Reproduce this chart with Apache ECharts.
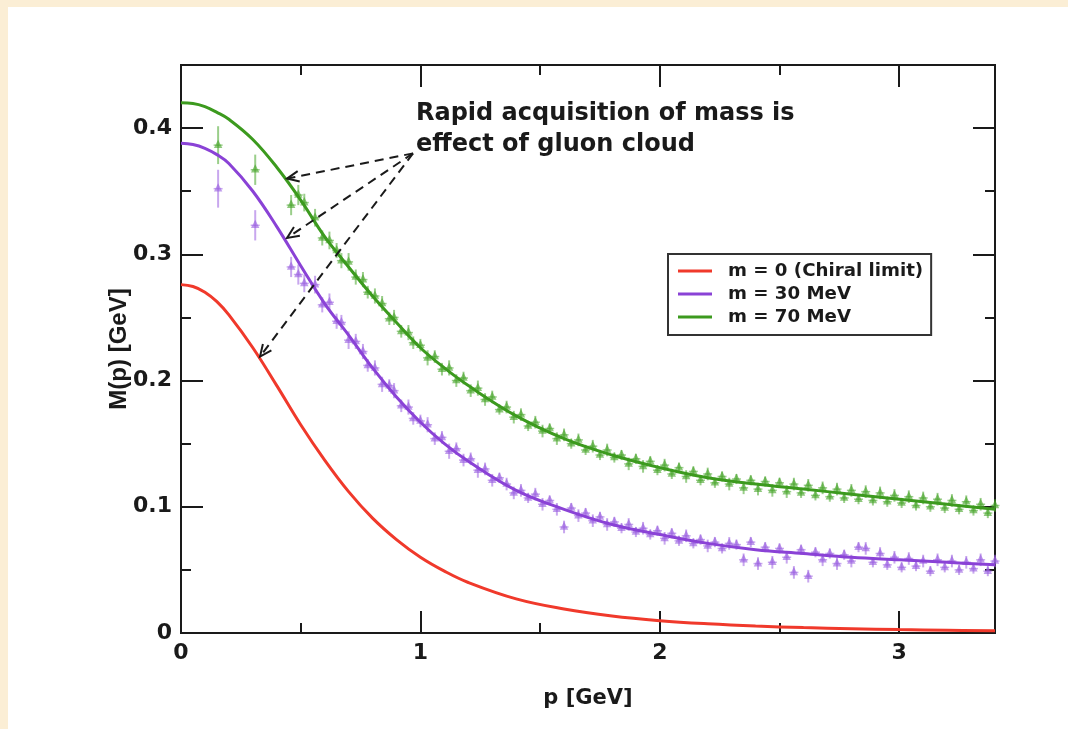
<!DOCTYPE html>
<html>
<head>
<meta charset="utf-8">
<script src="https://cdn.jsdelivr.net/npm/echarts@6/dist/echarts.min.js"></script>
<style>
  html, body { margin: 0; padding: 0; background: #fbeed5; }
  #main { width: 1068px; height: 729px; }
</style>
</head>
<body>
<div id="main"></div>
<script>
// fitted curves
const curveMomenta = [0, 0.05, 0.1, 0.15, 0.2, 0.3, 0.4, 0.5, 0.6, 0.7, 0.8, 0.9, 1.0, 1.1, 1.2, 1.4, 1.6, 1.8, 2.0, 2.2, 2.4, 2.6, 2.8, 3.0, 3.2, 3.4];
const chiralCurve = [0.276, 0.2745, 0.270, 0.2625, 0.252, 0.226, 0.196, 0.165, 0.137, 0.112, 0.091, 0.074, 0.060, 0.049, 0.040, 0.027, 0.019, 0.0135, 0.0098, 0.0073, 0.0055, 0.0043, 0.0034, 0.0027, 0.0022, 0.0018];
const mass30Curve = [0.388, 0.387, 0.384, 0.379, 0.372, 0.350, 0.322, 0.291, 0.261, 0.236, 0.210, 0.187, 0.167, 0.150, 0.136, 0.113, 0.098, 0.086, 0.078, 0.071, 0.066, 0.063, 0.060, 0.058, 0.056, 0.054];
const mass70Curve = [0.420, 0.4195, 0.417, 0.4125, 0.407, 0.391, 0.369, 0.343, 0.314, 0.290, 0.267, 0.246, 0.226, 0.210, 0.196, 0.172, 0.154, 0.141, 0.131, 0.123, 0.118, 0.114, 0.110, 0.106, 0.102, 0.098];

// lattice points (same momenta for both masses)
const latticeMomenta = [0.155, 0.31, 0.46, 0.49, 0.515,
  0.56, 0.59, 0.62, 0.65, 0.67, 0.70, 0.73, 0.76, 0.78, 0.81,
  0.84, 0.87, 0.89, 0.92, 0.95, 0.97, 1.00, 1.03, 1.06, 1.09,
  1.12, 1.15, 1.18, 1.21, 1.24, 1.27, 1.30, 1.33, 1.36, 1.39,
  1.42, 1.45, 1.48, 1.51, 1.54, 1.57, 1.60, 1.63, 1.66, 1.69,
  1.72, 1.75, 1.78, 1.81, 1.84, 1.87, 1.90, 1.93, 1.96, 1.99,
  2.02, 2.05, 2.08, 2.11, 2.14, 2.17, 2.20, 2.23, 2.26, 2.29,
  2.32, 2.35, 2.38, 2.41, 2.44, 2.47, 2.50, 2.53, 2.56, 2.59,
  2.62, 2.65, 2.68, 2.71, 2.74, 2.77, 2.80, 2.83, 2.86, 2.89,
  2.92, 2.95, 2.98, 3.01, 3.04, 3.07, 3.10, 3.13, 3.16, 3.19,
  3.22, 3.25, 3.28, 3.31, 3.34, 3.37, 3.40];
const mass30Lattice = [0.352, 0.323, 0.290, 0.284, 0.277,
  0.276, 0.260, 0.262, 0.247, 0.246, 0.232, 0.231, 0.223, 0.212, 0.210,
  0.197, 0.196, 0.192, 0.180, 0.179, 0.170, 0.168, 0.165, 0.154, 0.155,
  0.144, 0.146, 0.137, 0.138, 0.129, 0.130, 0.121, 0.123, 0.118, 0.111,
  0.113, 0.107, 0.110, 0.102, 0.105, 0.098, 0.084, 0.099, 0.093, 0.095,
  0.089, 0.092, 0.086, 0.088, 0.083, 0.086, 0.080, 0.083, 0.078, 0.081,
  0.075, 0.079, 0.073, 0.077, 0.071, 0.074, 0.069, 0.072, 0.067, 0.071,
  0.070, 0.058, 0.072, 0.055, 0.068, 0.056, 0.067, 0.060, 0.048, 0.066,
  0.045, 0.064, 0.058, 0.063, 0.055, 0.062, 0.057, 0.068, 0.067, 0.056,
  0.063, 0.054, 0.060, 0.052, 0.059, 0.053, 0.057, 0.049, 0.058, 0.052,
  0.057, 0.050, 0.056, 0.051, 0.058, 0.049, 0.057];
const mass70Lattice = [0.3865, 0.367, 0.339, 0.347, 0.341,
  0.329, 0.313, 0.311, 0.303, 0.295, 0.294, 0.282, 0.280, 0.270, 0.267,
  0.261, 0.249, 0.250, 0.239, 0.238, 0.230, 0.228, 0.218, 0.219, 0.209,
  0.210, 0.200, 0.202, 0.192, 0.194, 0.185, 0.187, 0.177, 0.179, 0.171,
  0.173, 0.164, 0.167, 0.160, 0.162, 0.154, 0.157, 0.150, 0.153, 0.145,
  0.148, 0.141, 0.145, 0.139, 0.141, 0.134, 0.138, 0.132, 0.136, 0.129,
  0.133, 0.126, 0.131, 0.124, 0.128, 0.121, 0.126, 0.119, 0.124, 0.118,
  0.122, 0.115, 0.121, 0.114, 0.120, 0.113, 0.119, 0.112, 0.118, 0.111,
  0.117, 0.109, 0.115, 0.108, 0.114, 0.107, 0.113, 0.106, 0.112, 0.105,
  0.111, 0.104, 0.109, 0.103, 0.108, 0.101, 0.107, 0.100, 0.106, 0.099,
  0.105, 0.098, 0.104, 0.097, 0.102, 0.095, 0.101];
const latticeErrors = [0.015, 0.012, 0.008, 0.008, 0.007,
  0.007, 0.006, 0.007, 0.006, 0.006, 0.007, 0.006, 0.006, 0.005, 0.006,
  0.006, 0.005, 0.006, 0.005, 0.006, 0.005, 0.005, 0.006, 0.005, 0.005,
  0.006, 0.005, 0.005, 0.005, 0.006, 0.005, 0.005, 0.004, 0.005, 0.005,
  0.005, 0.004, 0.005, 0.005, 0.004, 0.005, 0.005, 0.004, 0.005, 0.004,
  0.005, 0.004, 0.005, 0.004, 0.004, 0.005, 0.004, 0.005, 0.004, 0.004,
  0.005, 0.004, 0.004, 0.005, 0.004, 0.004, 0.005, 0.004, 0.004, 0.005,
  0.004, 0.005, 0.004, 0.005, 0.004, 0.005, 0.004, 0.005, 0.005, 0.004,
  0.005, 0.004, 0.005, 0.004, 0.005, 0.004, 0.005, 0.004, 0.005, 0.004,
  0.005, 0.004, 0.005, 0.004, 0.005, 0.004, 0.005, 0.004, 0.005, 0.004,
  0.005, 0.004, 0.005, 0.004, 0.005, 0.004, 0.005];

// annotation arrows: [fromP, fromM, toP, toM]
const arrowLines = [
  [0.969, 0.380, 0.443, 0.360],
  [0.969, 0.380, 0.443, 0.313],
  [0.969, 0.380, 0.330, 0.219]
];

const seriesNames = ['m = 0 (Chiral limit)', 'm = 30 MeV', 'm = 70 MeV'];

const chart = echarts.init(document.getElementById('main'));
const font = 'Liberation Sans, Arial, Helvetica, sans-serif';
const wideFont = 'DejaVu Sans, Verdana, sans-serif';
const ink = '#1a1a1a';
const tickText = { fontFamily: wideFont, fontWeight: 'bold', fontSize: 22, color: ink };

function pairs(xs, ys) { return xs.map((x, i) => [x, ys[i]]); }

function latticeRender(color) {
  return function (params, api) {
    const p = api.value(0), m = api.value(1), e = api.value(2);
    const c = api.coord([p, m]);
    const lo = api.coord([p, m - e]);
    const hi = api.coord([p, m + e]);
    return {
      type: 'group',
      children: [
        { type: 'line', shape: { x1: c[0], y1: lo[1], x2: c[0], y2: hi[1] }, style: { stroke: color, lineWidth: 2, opacity: 0.55 } },
        { type: 'line', shape: { x1: c[0] - 4.5, y1: c[1], x2: c[0] + 4.5, y2: c[1] }, style: { stroke: color, lineWidth: 1.5, opacity: 0.55 } },
        { type: 'polygon', shape: { points: [[c[0], c[1] - 5.5], [c[0] - 4.2, c[1] + 2.8], [c[0] + 4.2, c[1] + 2.8]] }, style: { fill: color, opacity: 0.62 } }
      ]
    };
  };
}

function arrowRender(params, api) {
  const s = api.coord([api.value(0), api.value(1)]);
  const t = api.coord([api.value(2), api.value(3)]);
  const ang = Math.atan2(s[1] - t[1], s[0] - t[0]);
  const len = 13, spread = 0.42;
  const h1 = [t[0] + len * Math.cos(ang + spread), t[1] + len * Math.sin(ang + spread)];
  const h2 = [t[0] + len * Math.cos(ang - spread), t[1] + len * Math.sin(ang - spread)];
  return {
    type: 'group',
    children: [
      { type: 'line', shape: { x1: s[0], y1: s[1], x2: t[0], y2: t[1] }, style: { stroke: ink, lineWidth: 2, lineDash: [9, 6] } },
      { type: 'polyline', shape: { points: [h1, t, h2] }, style: { stroke: ink, lineWidth: 2, fill: null } }
    ]
  };
}

const majorTick = { inside: true, length: 22, lineStyle: { color: ink, width: 2 } };
const minorTickAx = { inside: true, length: 10, lineStyle: { color: ink, width: 2 } };
const spine = { show: true, onZero: false, lineStyle: { color: ink, width: 2 } };

function xAx(position, interval, tick, extra) {
  return Object.assign({
    type: 'value', min: 0, max: 3.4, interval: interval, position: position,
    axisLine: spine, axisTick: tick,
    axisLabel: { show: false }, splitLine: { show: false }
  }, extra || {});
}
function yAx(position, interval, tick, extra) {
  return Object.assign({
    type: 'value', min: 0, max: 0.45, interval: interval, position: position,
    axisLine: spine, axisTick: tick,
    axisLabel: { show: false }, splitLine: { show: false }
  }, extra || {});
}

const option = {
  backgroundColor: '#fbeed5',
  animation: false,
  graphic: [
    { type: 'rect', z: -10, silent: true, shape: { x: 8, y: 7, width: 1060, height: 722 }, style: { fill: '#ffffff' } },
    {
      type: 'text', x: 416, y: 98, z: 10,
      style: {
        text: 'Rapid acquisition of mass is\neffect of gluon cloud',
        font: 'bold 24px ' + wideFont, fill: ink, lineHeight: 31, verticalAlign: 'top'
      }
    }
  ],
  grid: { left: 181, top: 65, right: 73, bottom: 96 },
  legend: {
    data: seriesNames,
    orient: 'vertical', left: 668, top: 254,
    borderColor: '#333', borderWidth: 2, padding: [8, 8, 9, 10], itemGap: 5,
    itemWidth: 34, itemHeight: 3, icon: 'rect',
    textStyle: { fontFamily: wideFont, fontWeight: 'bold', fontSize: 18.2, color: ink, padding: [0, 0, 0, 11] }
  },
  xAxis: [
    xAx('bottom', 1, majorTick, {
      axisLabel: Object.assign({ margin: 9, showMaxLabel: false, formatter: v => String(Math.round(v)) }, tickText),
      name: 'p [GeV]', nameLocation: 'middle', nameGap: 55,
      nameTextStyle: { fontFamily: wideFont, fontWeight: 'bold', fontSize: 21, color: ink }
    }),
    xAx('bottom', 0.5, minorTickAx),
    xAx('top', 1, majorTick),
    xAx('top', 0.5, minorTickAx)
  ],
  yAxis: [
    yAx('left', 0.1, majorTick, {
      axisLabel: Object.assign({ margin: 9, showMaxLabel: false, formatter: v => v === 0 ? '0' : v.toFixed(1) }, tickText),
      name: 'M(p) [GeV]', nameLocation: 'middle', nameGap: 50, nameMoveOverlap: false,
      nameTextStyle: { fontFamily: font, fontWeight: 'bold', fontSize: 24, color: ink }
    }),
    yAx('left', 0.05, minorTickAx),
    yAx('right', 0.1, majorTick),
    yAx('right', 0.05, minorTickAx)
  ],
  series: [
    {
      name: 'lattice 30', type: 'custom', z: 2,
      renderItem: latticeRender('#9a5fe0'),
      data: latticeMomenta.map((p, i) => [p, mass30Lattice[i], latticeErrors[i]])
    },
    {
      name: 'lattice 70', type: 'custom', z: 2,
      renderItem: latticeRender('#47a52a'),
      data: latticeMomenta.map((p, i) => [p, mass70Lattice[i], latticeErrors[i]])
    },
    {
      name: seriesNames[0], type: 'line', z: 4, smooth: 0.4, symbol: 'none',
      color: '#f0392b', lineStyle: { width: 3 },
      data: pairs(curveMomenta, chiralCurve)
    },
    {
      name: seriesNames[1], type: 'line', z: 4, smooth: 0.4, symbol: 'none',
      color: '#8a42d6', lineStyle: { width: 3 },
      data: pairs(curveMomenta, mass30Curve)
    },
    {
      name: seriesNames[2], type: 'line', z: 4, smooth: 0.4, symbol: 'none',
      color: '#3c9a1e', lineStyle: { width: 3 },
      data: pairs(curveMomenta, mass70Curve)
    },
    {
      name: 'arrows', type: 'custom', z: 6, clip: false,
      renderItem: arrowRender,
      data: arrowLines
    }
  ]
};

chart.setOption(option);
</script>
</body>
</html>
